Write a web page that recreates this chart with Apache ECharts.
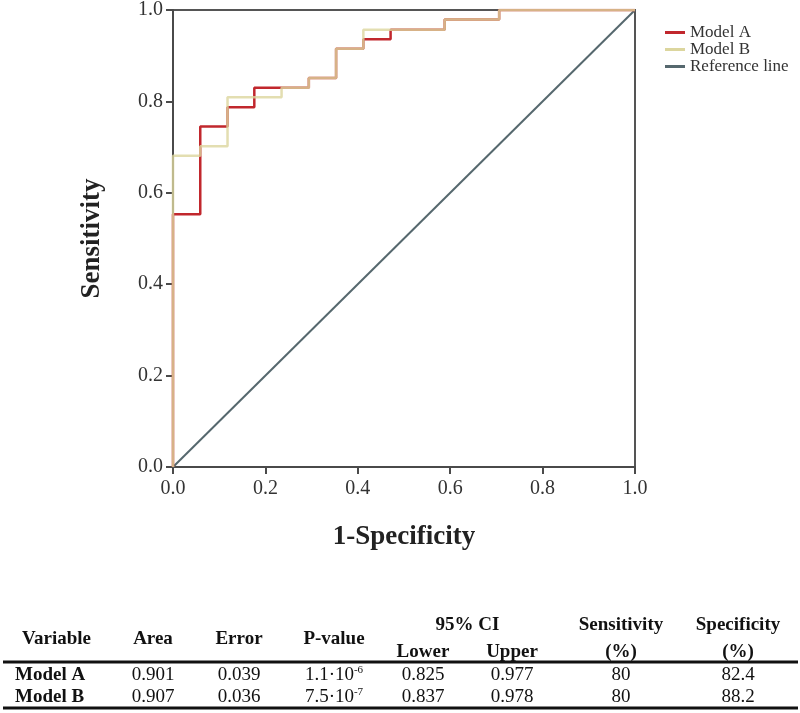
<!DOCTYPE html>
<html>
<head>
<meta charset="utf-8">
<script src="https://cdn.jsdelivr.net/npm/echarts@6/dist/echarts.min.js"></script>
<style>
html,body{margin:0;padding:0;background:#fff;}
#chart{width:800px;height:713px;}
</style>
</head>
<body>
<div id="chart"></div>
<script>
// ---- Data ----
const axisTicks = [0.0, 0.2, 0.4, 0.6, 0.8, 1.0];
// Model A ROC step corners (1-Specificity, Sensitivity)
const modelA_x = [0, 0, 0.059, 0.059, 0.118, 0.118, 0.176, 0.176, 0.294, 0.294, 0.353, 0.353, 0.412, 0.412, 0.471, 0.471, 0.588, 0.588, 0.706, 0.706, 1.0];
const modelA_y = [0, 0.553, 0.553, 0.745, 0.745, 0.787, 0.787, 0.830, 0.830, 0.851, 0.851, 0.915, 0.915, 0.936, 0.936, 0.957, 0.957, 0.979, 0.979, 1.0, 1.0];
// Model B ROC step corners
const modelB_x = [0, 0, 0.059, 0.059, 0.118, 0.118, 0.235, 0.235, 0.294, 0.294, 0.353, 0.353, 0.412, 0.412, 0.588, 0.588, 0.706, 0.706, 1.0];
const modelB_y = [0, 0.681, 0.681, 0.702, 0.702, 0.809, 0.809, 0.830, 0.830, 0.851, 0.851, 0.915, 0.915, 0.957, 0.957, 0.979, 0.979, 1.0, 1.0];
// Reference diagonal
const ref_x = [0, 1];
const ref_y = [0, 1];
const seriesNames = ['Model A', 'Model B', 'Reference line'];

// Table
const tableSingleHeaders = ['Variable', 'Area', 'Error', 'P-value'];
const tableCIHeader = '95% CI';
const tableCISubHeaders = ['Lower', 'Upper'];
const tableTwoLineHeaders = ['Sensitivity', 'Specificity'];
const tableUnitHeader = '(%)';
const rowModelA = ['Model A', '0.901', '0.039', ['1.1·10', '-6'], '0.825', '0.977', '80', '82.4'];
const rowModelB = ['Model B', '0.907', '0.036', ['7.5·10', '-7'], '0.837', '0.978', '80', '88.2'];

// ---- Build ----
const zip = (xs, ys) => xs.map((x, i) => [x, ys[i]]);
const FONT = '"Liberation Serif", "Times New Roman", serif';
const chart = echarts.init(document.getElementById('chart'), null, {renderer: 'canvas'});

// table layout (styles only)
const colX = [15, 153, 239, 334, 423, 512, 621, 738];
const headerY = 639, header1Y = 625, header2Y = 652, rowY = [675, 697];
const tableFS = 19;
const graphics = [];
function txt(x, y, text, opts) {
  graphics.push({
    type: 'text', x: x, y: y, silent: true,
    style: Object.assign({text: text, fill: '#111', font: (opts && opts.bold ? 'bold ' : '') + tableFS + 'px ' + FONT,
      align: (opts && opts.align) || 'center', verticalAlign: 'middle'}, (opts && opts.style) || {})
  });
}
tableSingleHeaders.forEach((h, i) => txt(i === 0 ? 22 : colX[i], headerY, h, {bold: true, align: i === 0 ? 'left' : 'center'}));
txt((colX[4] + colX[5]) / 2, header1Y, tableCIHeader, {bold: true});
txt(colX[4], header2Y, tableCISubHeaders[0], {bold: true});
txt(colX[5], header2Y, tableCISubHeaders[1], {bold: true});
tableTwoLineHeaders.forEach((h, i) => {
  txt(colX[6 + i], header1Y, h, {bold: true});
  txt(colX[6 + i], header2Y, tableUnitHeader, {bold: true});
});
[rowModelA, rowModelB].forEach((row, r) => {
  row.forEach((v, c) => {
    if (Array.isArray(v)) {
      graphics.push({
        type: 'text', x: colX[c], y: rowY[r], silent: true,
        style: {
          text: '{b|' + v[0] + '}{s|' + v[1] + '}',
          align: 'center', verticalAlign: 'middle', fill: '#111',
          rich: {
            b: {fontSize: tableFS, fontFamily: FONT, fill: '#111', lineHeight: 20, verticalAlign: 'bottom'},
            s: {fontSize: 11, fontFamily: FONT, fill: '#111', lineHeight: 20, verticalAlign: 'top', padding: [0, 0, 0, 0]}
          }
        }
      });
    } else {
      txt(colX[c], rowY[r], v, {bold: c === 0, align: c === 0 ? 'left' : 'center'});
    }
  });
});
graphics.push({type: 'line', silent: true, shape: {x1: 3, y1: 662, x2: 798, y2: 662}, style: {stroke: '#111', lineWidth: 3}});
graphics.push({type: 'line', silent: true, shape: {x1: 3, y1: 708, x2: 798, y2: 708}, style: {stroke: '#111', lineWidth: 3}});

const axisCommon = {
  type: 'value', min: 0, max: 1, interval: 0.2,
  axisLine: {show: true, lineStyle: {color: '#4a4a4a', width: 2}},
  axisTick: {show: true, inside: false, length: 7, lineStyle: {color: '#4a4a4a', width: 2}},
  splitLine: {show: false},
  axisLabel: {fontFamily: FONT, fontSize: 20, color: '#333', formatter: v => v.toFixed(1)},
  nameLocation: 'middle',
  nameTextStyle: {fontFamily: FONT, fontSize: 27, fontWeight: 'bold', color: '#222'}
};

chart.setOption({
  animation: false,
  backgroundColor: '#fff',
  grid: {left: 173, right: 165, top: 7, bottom: 246, show: true, borderColor: '#555', borderWidth: 2, backgroundColor: 'transparent', containLabel: false},
  xAxis: Object.assign({}, axisCommon, {name: '1-Specificity', nameGap: 57, axisLabel: Object.assign({}, axisCommon.axisLabel, {margin: 12})}),
  yAxis: Object.assign({}, axisCommon, {name: 'Sensitivity', nameGap: 67,
    nameTextStyle: Object.assign({}, axisCommon.nameTextStyle, {padding: [0, 0, 0, 0]}),
    axisLabel: Object.assign({}, axisCommon.axisLabel, {margin: 10})}),
  legend: {
    orient: 'vertical', left: 660, top: 19, itemWidth: 20, itemHeight: 3, itemGap: 0,
    icon: 'rect',
    textStyle: {fontFamily: FONT, fontSize: 17, color: '#333', padding: [0, 0, 0, 0], lineHeight: 16},
    data: seriesNames
  },
  series: [
    {name: seriesNames[0], type: 'line', data: zip(modelA_x, modelA_y), showSymbol: false, symbol: 'none',
      lineStyle: {color: '#c1272d', width: 2.5}, itemStyle: {color: '#c1272d'}, z: 3},
    {name: seriesNames[1], type: 'line', data: zip(modelB_x, modelB_y), showSymbol: false, symbol: 'none',
      lineStyle: {color: '#dcd69e', width: 2.5, opacity: 0.8}, itemStyle: {color: '#dcd69e'}, z: 4},
    {name: seriesNames[2], type: 'line', data: zip(ref_x, ref_y), showSymbol: false, symbol: 'none',
      lineStyle: {color: '#56686e', width: 2}, itemStyle: {color: '#56686e'}, z: 2}
  ],
  graphic: graphics
});
</script>
</body>
</html>
